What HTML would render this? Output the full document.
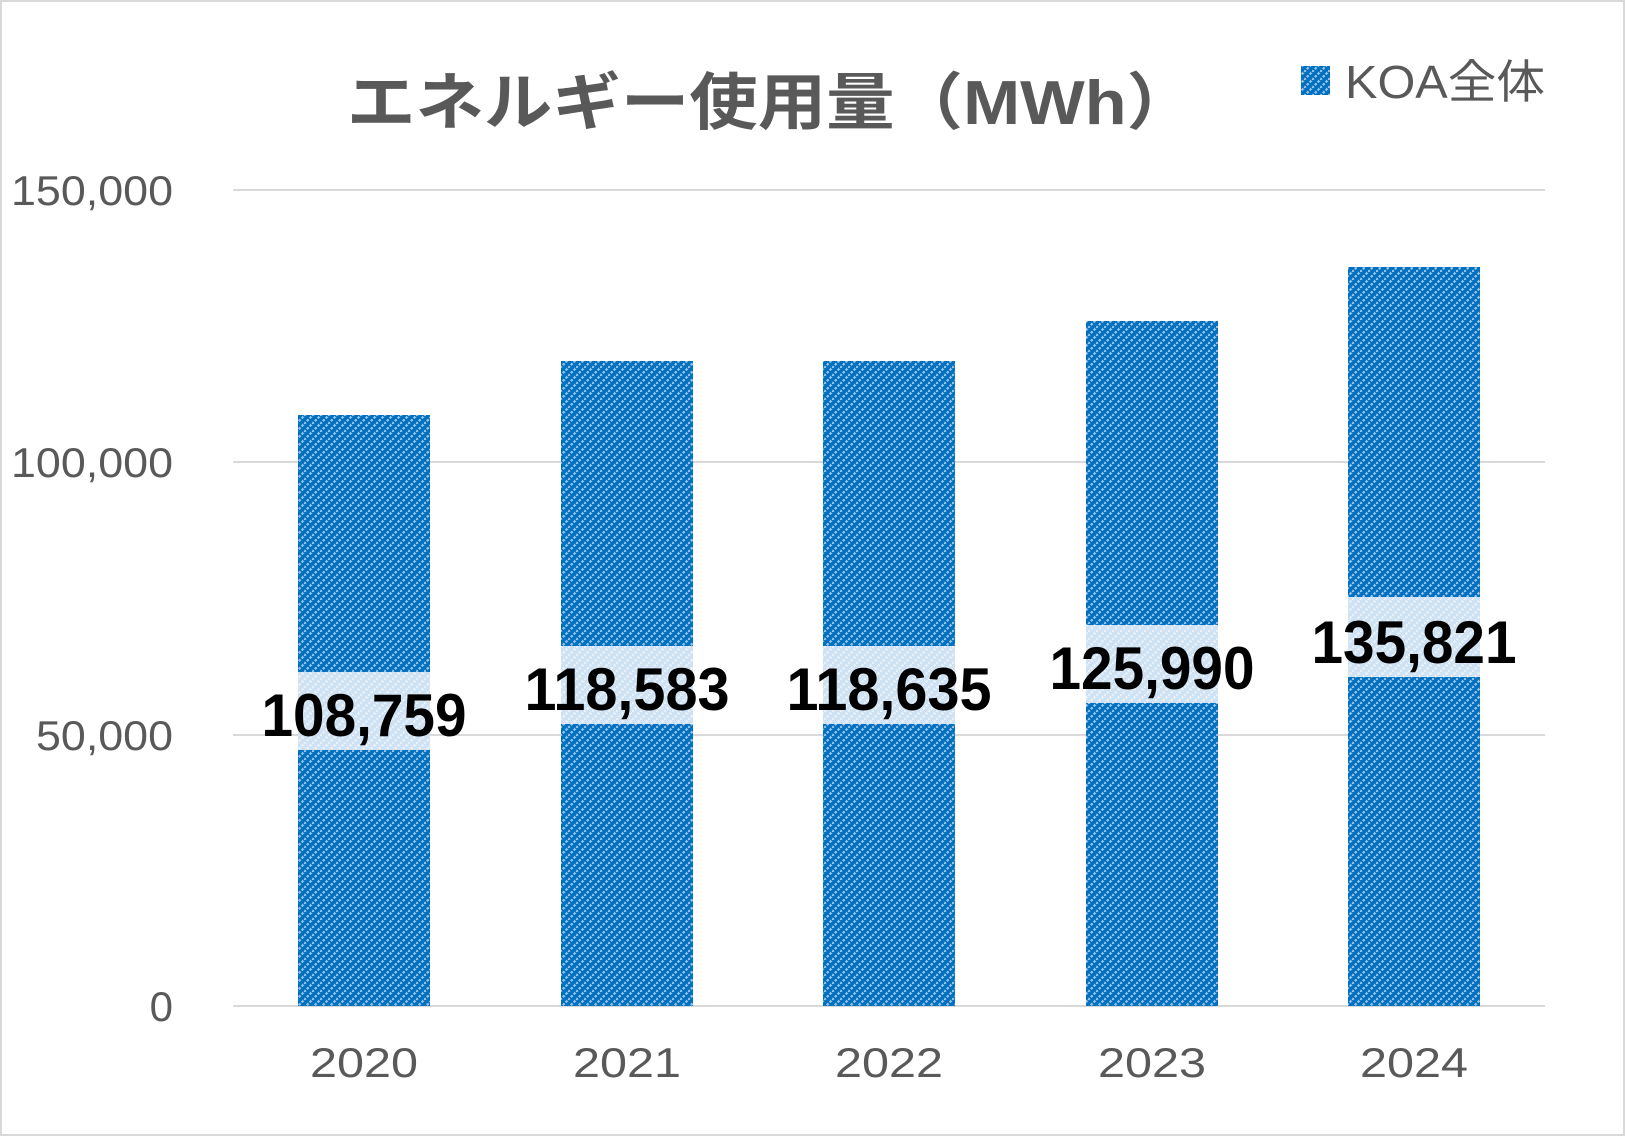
<!DOCTYPE html>
<html><head><meta charset="utf-8"><style>html,body{margin:0;padding:0;background:#fff}</style></head>
<body>
<svg width="1625" height="1136" viewBox="0 0 1625 1136" xmlns="http://www.w3.org/2000/svg">
<defs>
<pattern id="h" width="8" height="8" patternUnits="userSpaceOnUse">
<rect width="8" height="8" fill="#0070C0"/>
<path d="M-2,2 L2,-2 M0,8 L8,0 M6,10 L10,6" stroke="#9DC3E6" stroke-width="2.2" stroke-dasharray="2.5,1.5"/>
</pattern>
<pattern id="l" width="8" height="8" patternUnits="userSpaceOnUse">
<rect width="8" height="8" fill="#CFE2F3"/>
<path d="M-2,2 L2,-2 M0,8 L8,0 M6,10 L10,6" stroke="#EAF2FA" stroke-width="2.2" stroke-dasharray="2.5,1.5"/>
</pattern>
</defs>
<rect x="1" y="1" width="1623" height="1134" fill="#fff" stroke="#D9D9D9" stroke-width="2"/>
<g stroke="#D9D9D9" stroke-width="2">
<line x1="233" y1="190" x2="1545" y2="190"/>
<line x1="233" y1="462" x2="1545" y2="462"/>
<line x1="233" y1="735" x2="1545" y2="735"/>
<line x1="233" y1="1006" x2="1545" y2="1006"/>
</g>
<g font-family="'Liberation Sans',sans-serif" font-size="42" fill="#595959" text-anchor="end">
<text x="173" y="205" textLength="162" lengthAdjust="spacingAndGlyphs">150,000</text>
<text x="173" y="477" textLength="162" lengthAdjust="spacingAndGlyphs">100,000</text>
<text x="173" y="750" textLength="137" lengthAdjust="spacingAndGlyphs">50,000</text>
<text x="173" y="1021">0</text>
</g>
<g font-family="'Liberation Sans',sans-serif" font-size="42" fill="#595959" text-anchor="middle">
<text x="364" y="1077" textLength="108" lengthAdjust="spacingAndGlyphs">2020</text>
<text x="627" y="1077" textLength="108" lengthAdjust="spacingAndGlyphs">2021</text>
<text x="889" y="1077" textLength="108" lengthAdjust="spacingAndGlyphs">2022</text>
<text x="1152" y="1077" textLength="108" lengthAdjust="spacingAndGlyphs">2023</text>
<text x="1414" y="1077" textLength="108" lengthAdjust="spacingAndGlyphs">2024</text>
</g>
<g fill="url(#h)">
<rect x="298" y="415" width="132" height="591"/>
<rect x="561" y="361" width="132" height="645"/>
<rect x="823" y="361" width="132" height="645"/>
<rect x="1086" y="321" width="132" height="685"/>
<rect x="1348" y="267" width="132" height="739"/>
</g>
<g fill="url(#l)">
<rect x="298" y="672" width="132" height="78"/>
<rect x="561" y="646" width="132" height="78"/>
<rect x="823" y="646" width="132" height="78"/>
<rect x="1086" y="625" width="132" height="78"/>
<rect x="1348" y="597" width="132" height="80"/>
</g>
<g font-family="'Liberation Sans',sans-serif" font-size="60" font-weight="bold" fill="#000" text-anchor="middle">
<text x="364" y="736" textLength="205" lengthAdjust="spacingAndGlyphs">108,759</text>
<text x="627" y="710" textLength="205" lengthAdjust="spacingAndGlyphs">118,583</text>
<text x="889" y="710" textLength="205" lengthAdjust="spacingAndGlyphs">118,635</text>
<text x="1152" y="689" textLength="205" lengthAdjust="spacingAndGlyphs">125,990</text>
<text x="1414" y="663" textLength="205" lengthAdjust="spacingAndGlyphs">135,821</text>
</g>
<text x="347" y="124" font-family="'Liberation Sans','Noto Sans CJK JP',sans-serif" font-size="62" font-weight="bold" fill="#595959" textLength="848" lengthAdjust="spacingAndGlyphs">エネルギー使用量（MWh）</text>
<rect x="1301" y="66" width="29" height="29" fill="url(#h)"/>
<text x="1345" y="98" font-family="'Liberation Sans','Noto Sans CJK JP',sans-serif" font-size="46" fill="#595959" textLength="200" lengthAdjust="spacingAndGlyphs">KOA全体</text>
</svg>
</body></html>
